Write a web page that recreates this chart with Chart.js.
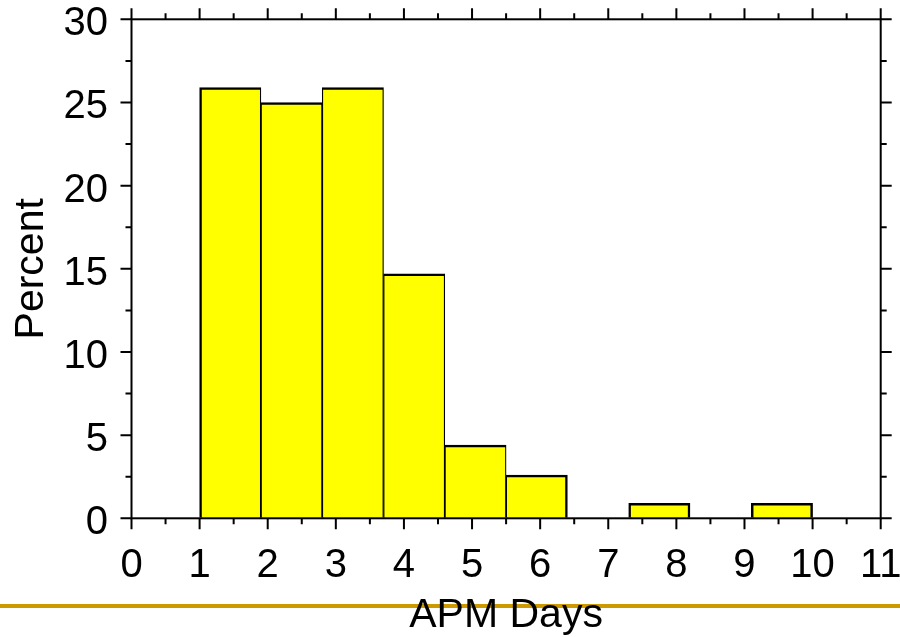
<!DOCTYPE html>
<html>
<head>
<meta charset="utf-8">
<title>APM Days</title>
<script src="https://cdn.jsdelivr.net/npm/chart.js@4/dist/chart.umd.min.js"></script>
<style>
    html, body { margin: 0; padding: 0; background: #fff; }
    #chart { display: block; }
</style>
</head>
<body>
<canvas id="chart" width="900" height="637"></canvas>
<script>
// Histogram bins (centre of each 0.9-day bin) and percentage per bin
const binCenters = [1.45, 2.35, 3.25, 4.15, 5.05, 5.95, 6.85, 7.75, 8.65, 9.55];
const percent = [25.9, 25.0, 25.9, 14.7, 4.4, 2.6, 0, 0.9, 0, 0.9];

// Axis ticks
const xTicks = [0, 1, 2, 3, 4, 5, 6, 7, 8, 9, 10, 11];
const yTicks = [0, 5, 10, 15, 20, 25, 30];

const FONT = "'Liberation Sans', Arial, Helvetica, sans-serif";

// gold rule across the page, behind the axis title
const goldRule = {
    id: 'goldRule',
    beforeDraw(chart) {
        const ctx = chart.ctx;
        ctx.save();
        ctx.fillStyle = '#CC9900';
        ctx.fillRect(0, 604, chart.width, 4);
        ctx.restore();
    }
};

// box around the plot with outward major/minor ticks on all four sides
const frameTicks = {
    id: 'frameTicks',
    afterDraw(chart) {
        const { ctx, chartArea: a, scales: { x, y } } = chart;
        ctx.save();
        ctx.strokeStyle = '#000';
        ctx.lineWidth = 2;
        ctx.strokeRect(a.left, a.top, a.right - a.left, a.bottom - a.top);
        ctx.beginPath();
        xTicks.forEach((v, i) => {
            const marks = [[v, 11]];
            if (i < xTicks.length - 1) marks.push([(v + xTicks[i + 1]) / 2, 6]);
            marks.forEach(([val, len]) => {
                const px = x.getPixelForValue(val);
                ctx.moveTo(px, a.bottom); ctx.lineTo(px, a.bottom + len);
                ctx.moveTo(px, a.top); ctx.lineTo(px, a.top - len);
            });
        });
        yTicks.forEach((v, i) => {
            const marks = [[v, 11]];
            if (i < yTicks.length - 1) marks.push([(v + yTicks[i + 1]) / 2, 6]);
            marks.forEach(([val, len]) => {
                const py = y.getPixelForValue(val);
                ctx.moveTo(a.left, py); ctx.lineTo(a.left - len, py);
                ctx.moveTo(a.right, py); ctx.lineTo(a.right + len, py);
            });
        });
        ctx.stroke();
        ctx.restore();
    }
};

const ctx = document.getElementById('chart').getContext('2d');

new Chart(ctx, {
    type: 'bar',
    data: {
        datasets: [{
            data: binCenters.map((c, i) => ({ x: c, y: percent[i] })),
            backgroundColor: '#FFFF00',
            borderColor: '#000',
            // neighbouring bars share an edge, so keep shared sides thin
            borderWidth: (c) => {
                const i = c.dataIndex;
                return {
                    top: 2.5,
                    bottom: 0,
                    left: percent[i - 1] > 0 ? 1.25 : 2.5,
                    right: percent[i + 1] > 0 ? 1.25 : 2.5
                };
            },
            borderSkipped: false,
            barPercentage: 1,
            categoryPercentage: 1
        }]
    },
    options: {
        responsive: false,
        animation: false,
        devicePixelRatio: 1,
        layout: { padding: { top: 19.3, right: 19.3, left: 0, bottom: 0 } },
        plugins: {
            legend: { display: false },
            tooltip: { enabled: false }
        },
        scales: {
            x: {
                type: 'linear',
                min: 0,
                max: 11,
                offset: false,
                afterBuildTicks: (s) => { s.ticks = xTicks.map(v => ({ value: v })); },
                afterFit: (s) => {
                    s.height = 118.7;
                    s.paddingLeft = 0;
                    s.paddingRight = 0;
                },
                ticks: {
                    color: '#000',
                    font: { family: FONT, size: 40 },
                    padding: 13,
                    maxRotation: 0,
                    autoSkip: false
                },
                grid: {
                    display: true,
                    drawOnChartArea: false,
                    drawTicks: true,
                    tickLength: 11,
                    tickColor: 'rgba(0,0,0,0)'
                },
                border: { display: false },
                title: {
                    display: true,
                    text: 'APM Days',
                    color: '#000',
                    font: { family: FONT, size: 41, lineHeight: 1 },
                    padding: { top: 0, bottom: 1 }
                }
            },
            y: {
                min: 0,
                max: 30,
                afterBuildTicks: (s) => { s.ticks = yTicks.map(v => ({ value: v })); },
                afterFit: (s) => {
                    s.width = 131.5;
                    s.paddingTop = 0;
                    s.paddingBottom = 0;
                },
                ticks: {
                    color: '#000',
                    font: { family: FONT, size: 40 },
                    padding: 12.5,
                    labelOffset: 5
                },
                grid: {
                    display: true,
                    drawOnChartArea: false,
                    drawTicks: true,
                    tickLength: 11,
                    tickColor: 'rgba(0,0,0,0)'
                },
                border: { display: false },
                title: {
                    display: true,
                    text: 'Percent',
                    color: '#000',
                    font: { family: FONT, size: 41, lineHeight: 1 },
                    padding: { top: 11, bottom: 0 }
                }
            }
        }
    },
    plugins: [goldRule, frameTicks]
});
</script>
</body>
</html>
